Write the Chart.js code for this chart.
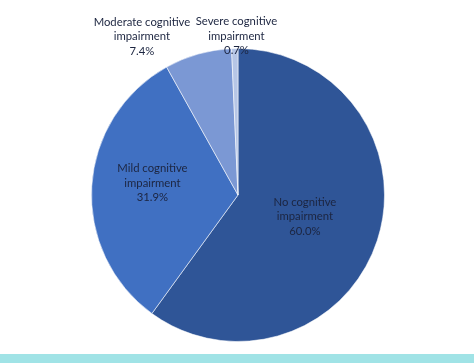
<!DOCTYPE html>
<html><head><meta charset="utf-8">
<script src="https://cdn.jsdelivr.net/npm/chart.js@4/dist/chart.umd.min.js"></script>
<style>
html,body{margin:0;padding:0;background:#fff;}
#wrap{position:relative;width:474px;height:363px;overflow:hidden;}
#strip{position:absolute;left:0;top:354px;width:474px;height:9px;background:#a0e3e6;}
canvas{position:absolute;left:0;top:0;}
</style></head><body>
<div id="wrap"><canvas id="c" width="474" height="363"></canvas><div id="strip"></div></div>
<script>
const categories = [["No cognitive","impairment"],["Mild cognitive","impairment"],["Moderate cognitive","impairment"],["Severe cognitive","impairment"]];
const values = [60.0, 31.9, 7.4, 0.7];
const valueLabels = ["60.0%","31.9%","7.4%","0.7%"];
const colors = ["#2f5597","#4070c2","#7b98d4","#b6c6e6"];
// label placement style: radius factor along slice mid-angle, extra shift (px)
const labelRadius = [0.48, 0.585, 1.127, 1.088];
const labelShiftX = [0, 0, -51, 2];
const labelShiftY = [0, -7, 0.5, 0.5];

const labelPlugin = {
  id:'sliceLabels',
  afterDatasetsDraw(chart){
    const ctx = chart.ctx;
    const meta = chart.getDatasetMeta(0);
    ctx.save();
    ctx.font = '11.3px Lato, "Open Sans", sans-serif';
    ctx.fillStyle = '#1c2540';
    ctx.textAlign = 'center';
    ctx.textBaseline = 'middle';
    meta.data.forEach((arc,i)=>{
      const p = arc.getProps(['x','y','startAngle','endAngle','outerRadius'],true);
      const mid = (p.startAngle+p.endAngle)/2;
      const r = p.outerRadius*labelRadius[i];
      const cx = p.x + Math.cos(mid)*r + labelShiftX[i];
      const cy = p.y + Math.sin(mid)*r + labelShiftY[i];
      const lines = [...categories[i], valueLabels[i]];
      const lh = 14.3;
      lines.forEach((t,k)=>{
        ctx.fillText(t, cx, cy + (k-(lines.length-1)/2)*lh);
      });
    });
    ctx.restore();
  }
};

new Chart(document.getElementById('c'),{
  type:'pie',
  data:{labels:categories.map(c=>c.join(' ')),datasets:[{data:values,backgroundColor:colors,borderColor:'rgba(255,255,255,0.55)',borderWidth:1}]},
  options:{
    responsive:false,animation:false,
    layout:{padding:{top:48,bottom:21,left:91,right:89}},
    plugins:{legend:{display:false},tooltip:{enabled:false}}
  },
  plugins:[labelPlugin]
});
</script>
</body></html>
